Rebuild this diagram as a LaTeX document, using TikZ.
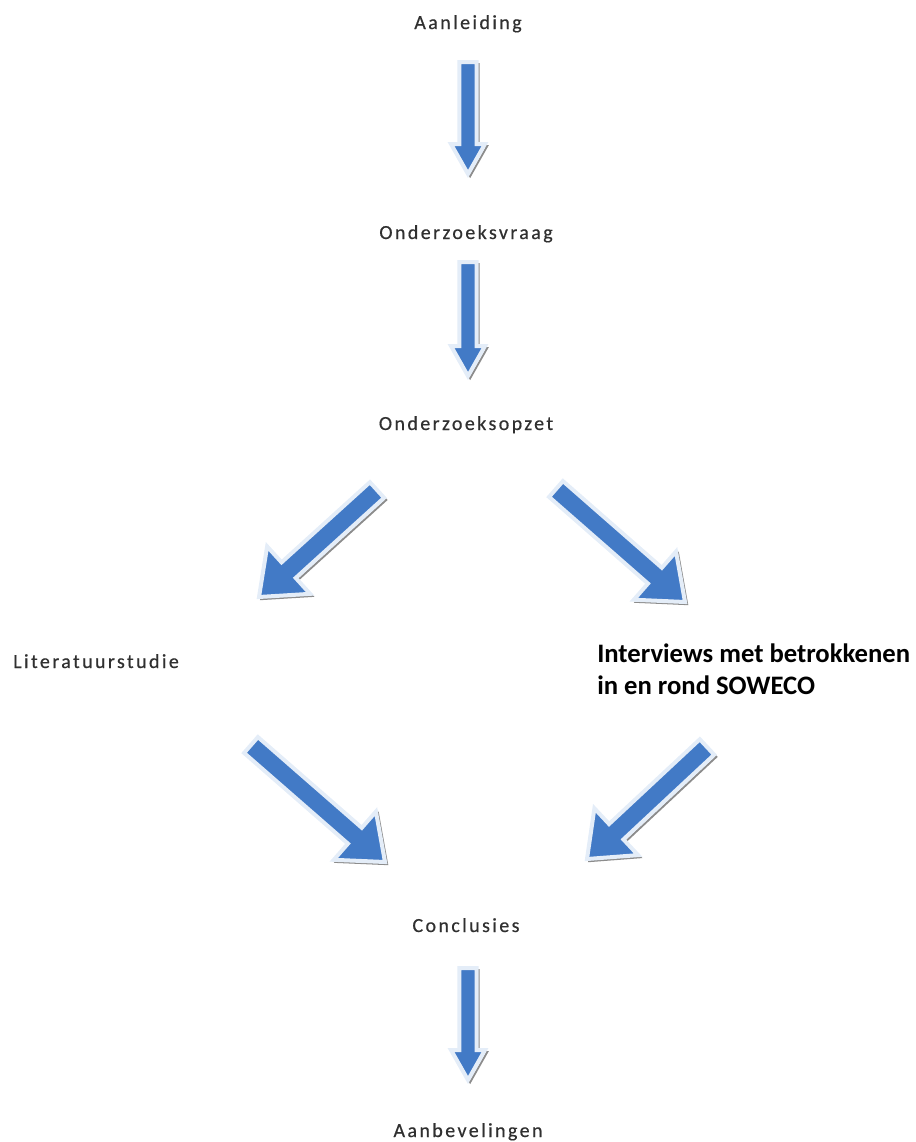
\documentclass[tikz,border=0pt]{standalone}
\usepackage{fontspec}
\setmainfont{Carlito}
\usetikzlibrary{calc}
\definecolor{arrowblue}{RGB}{66,122,198}
\definecolor{arrowrim}{RGB}{228,237,248}
\definecolor{arrowshade}{RGB}{140,140,140}
\definecolor{labelgray}{RGB}{48,48,48}
\newcommand\arrowoutline[4]{($(#1)!#3!90:(#2)$) -- ($(hb)!#3!-90:(#1)$) -- ($(hb)!#4!-90:(#1)$) -- (#2) -- ($(hb)!#4!90:(#1)$) -- ($(hb)!#3!90:(#1)$) -- ($(#1)!#3!-90:(#2)$) -- cycle}
\newcommand\blockarrow[5]{%
  \coordinate (hb) at ($(#2)!#5!(#1)$);
  \begin{scope}[transform canvas={shift={(1.6pt,-1.6pt)}}]
    \path[arrowshadow] \arrowoutline{#1}{#2}{#3}{#4};
  \end{scope}
  \path[arrowbody] \arrowoutline{#1}{#2}{#3}{#4};
}
\tikzset{
  lbl/.style={font=\fontsize{15}{18}\selectfont\addfontfeature{LetterSpace=12,FakeBold=0.5}, text=labelgray, inner sep=0pt, anchor=base},
  boldlbl/.style={font=\fontsize{20}{24}\selectfont\bfseries, text=black, inner sep=0pt, anchor=base west, align=left},
  arrowbody/.style={fill=arrowblue, draw=arrowrim, line width=3pt, line join=miter},
  arrowshadow/.style={draw=arrowshade, line width=1.5pt, line join=miter},
}
\begin{document}
\begin{tikzpicture}[x=0.75pt, y=-0.75pt]
\useasboundingbox (0,0) rectangle (915,1142);
% labels
\node[lbl] (aan) at (468,29) {Aanleiding};
\node[lbl] (vraag) at (466,239) {Onderzoeksvraag};
\node[lbl] (opzet) at (466,430) {Onderzoeksopzet};
\node[lbl, anchor=base west] (lit) at (13,668) {Literatuurstudie};
\node[boldlbl] (int) at (597,694) {Interviews met betrokkenen\\in en rond SOWECO};
\node[lbl] (concl) at (466,932) {Conclusies};
\node[lbl] (aanb) at (468,1137) {Aanbevelingen};
% arrow end points
\coordinate (a1s) at (468,62);   \coordinate (a1e) at (468,174);
\coordinate (a2s) at (468,262);  \coordinate (a2e) at (468,376);
\coordinate (a3s) at (377,490);  \coordinate (a3e) at (259,597);
\coordinate (a4s) at (556,489);  \coordinate (a4e) at (685,602);
\coordinate (a5s) at (251,745);  \coordinate (a5e) at (385,862);
\coordinate (a6s) at (707,747);  \coordinate (a6e) at (587,859);
\coordinate (a7s) at (468,968);  \coordinate (a7e) at (468,1080);
% arrows
\blockarrow{a1s}{a1e}{6.4pt}{12.75pt}{22.5pt}
\blockarrow{a2s}{a2e}{6.4pt}{12.75pt}{22.5pt}
\blockarrow{a3s}{a3e}{7.9pt}{24pt}{30pt}
\blockarrow{a4s}{a4e}{7.9pt}{24pt}{30pt}
\blockarrow{a5s}{a5e}{7.9pt}{24pt}{30pt}
\blockarrow{a6s}{a6e}{7.9pt}{24pt}{30pt}
\blockarrow{a7s}{a7e}{6.4pt}{12.75pt}{22.5pt}
\end{tikzpicture}
\end{document}
